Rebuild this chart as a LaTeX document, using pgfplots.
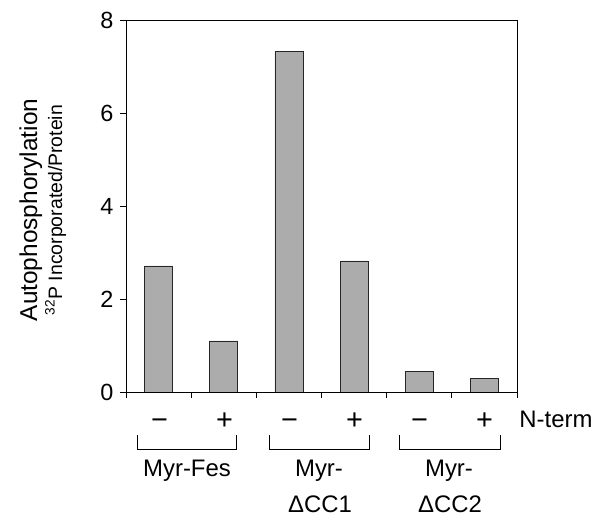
\documentclass[border=0pt]{standalone}
\usepackage{fontspec}
\setmainfont{Liberation Sans}
\usepackage{pgfplots}
\pgfplotsset{compat=1.18}
\definecolor{barfill}{RGB}{172,172,172}
\begin{document}
\begin{tikzpicture}[x=1bp,y=1bp]
\useasboundingbox (0,0) rectangle (607,520);
\begin{axis}[at={(126bp,128bp)}, anchor=south west, scale only axis,
  width=391bp, height=372bp,
  xmin=0, xmax=6, ymin=0, ymax=8,
  ytick={0,2,4,6,8}, xtick={0,1,2,3,4,5,6}, xticklabels={},
  xtick pos=bottom, ytick pos=left,
  tick align=outside, major tick length=6bp,
  tick style={black, line width=0.7pt},
  axis line style={line width=0.8pt},
  /pgf/number format/assume math mode=true,
  yticklabel style={font=\fontsize{23.5}{27}\selectfont, xshift=-3bp},
]
\addplot[ybar, bar width=28bp, fill=barfill, draw=black!85, line width=0.6pt]
  coordinates {(0.5,2.71) (1.5,1.10) (2.5,7.32) (3.5,2.82) (4.5,0.44) (5.5,0.29)};
\end{axis}
\begin{scope}[every node/.style={font=\fontsize{24}{28}\selectfont, inner sep=0pt}]
\foreach \xx/\s in {159.5/−,224.5/+,289.5/−,354.5/+,419.5/−,484.5/+}
  \node[anchor=base, font=\fontsize{29}{32}\selectfont] at (\xx,90) {\s};
\node[anchor=base] at (556,92) {N-term};
\node[anchor=base] at (187,43) {Myr-Fes};
\node[anchor=base] at (319,43) {Myr-};
\node[anchor=base] at (320,7) {ΔCC1};
\node[anchor=base] at (449,43) {Myr-};
\node[anchor=base] at (450,7) {ΔCC2};
\end{scope}
\draw[line width=0.8pt] (137,85) -- (137,71) -- (236,71) -- (236,85);
\draw[line width=0.8pt] (269,85) -- (269,71) -- (369,71) -- (369,85);
\draw[line width=0.8pt] (399,85) -- (399,71) -- (500,71) -- (500,85);
\node[rotate=90, anchor=base, inner sep=0pt, font=\fontsize{24.5}{28}\selectfont] at (37,310) {Autophosphorylation};
\node[rotate=90, anchor=base, inner sep=0pt, font=\fontsize{19.5}{22}\selectfont] at (62,310) {\textsuperscript{32}P Incorporated/Protein};
\end{tikzpicture}
\end{document}
